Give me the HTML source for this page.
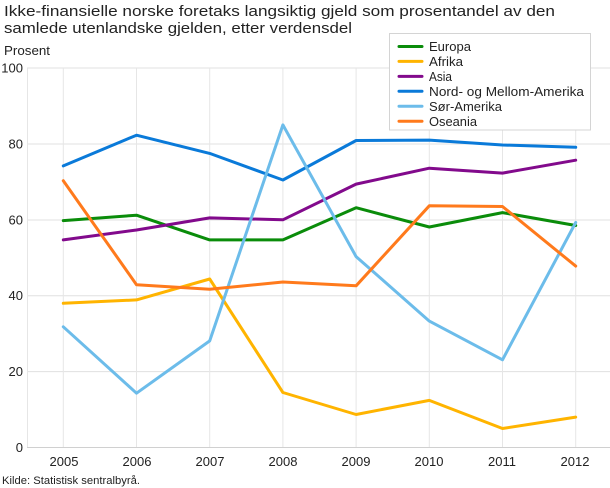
<!DOCTYPE html>
<html>
<head>
<meta charset="utf-8">
<style>
  html, body { margin: 0; padding: 0; background: #ffffff; }
  svg { display: block; }
  text { font-family: "Liberation Sans", "DejaVu Sans", sans-serif; fill: #222222; }
</style>
</head>
<body>
<svg width="610" height="488" viewBox="0 0 610 488" xmlns="http://www.w3.org/2000/svg">
  <!-- Title -->
  <text x="4" y="16" font-size="15" textLength="551" lengthAdjust="spacingAndGlyphs">Ikke-finansielle norske foretaks langsiktig gjeld som prosentandel av den</text>
  <text x="4" y="33" font-size="15" textLength="348" lengthAdjust="spacingAndGlyphs">samlede utenlandske gjelden, etter verdensdel</text>
  <text x="4" y="55" font-size="13" textLength="46" lengthAdjust="spacingAndGlyphs">Prosent</text>

  <!-- Horizontal gridlines -->
  <g stroke="#e0e0e0" stroke-width="1">
    <line x1="27" y1="68" x2="610" y2="68"/>
    <line x1="27" y1="144" x2="610" y2="144"/>
    <line x1="27" y1="220" x2="610" y2="220"/>
    <line x1="27" y1="295.7" x2="610" y2="295.7"/>
    <line x1="27" y1="371.6" x2="610" y2="371.6"/>
  </g>
  <!-- Vertical gridlines -->
  <g stroke="#e6e6e6" stroke-width="1">
    <line x1="27.5" y1="68" x2="27.5" y2="447.5"/>
    <line x1="63.3" y1="68" x2="63.3" y2="447.5"/>
    <line x1="136.5" y1="68" x2="136.5" y2="447.5"/>
    <line x1="209.7" y1="68" x2="209.7" y2="447.5"/>
    <line x1="282.9" y1="68" x2="282.9" y2="447.5"/>
    <line x1="356.1" y1="68" x2="356.1" y2="447.5"/>
    <line x1="429.3" y1="68" x2="429.3" y2="447.5"/>
    <line x1="502.5" y1="68" x2="502.5" y2="447.5"/>
    <line x1="575.7" y1="68" x2="575.7" y2="447.5"/>
  </g>
  <line x1="27" y1="447.5" x2="610" y2="447.5" stroke="#d0d0d0" stroke-width="1"/>

  <!-- Y labels -->
  <g font-size="13" text-anchor="end">
    <text x="23" y="72.5">100</text>
    <text x="23" y="148.5">80</text>
    <text x="23" y="224.5">60</text>
    <text x="23" y="300">40</text>
    <text x="23" y="376">20</text>
    <text x="23" y="452">0</text>
  </g>

  <!-- X labels -->
  <g font-size="13" text-anchor="middle">
    <text x="64" y="466">2005</text>
    <text x="137" y="466">2006</text>
    <text x="210" y="466">2007</text>
    <text x="283" y="466">2008</text>
    <text x="356" y="466">2009</text>
    <text x="429" y="466">2010</text>
    <text x="502" y="466">2011</text>
    <text x="575" y="466">2012</text>
  </g>

  <!-- Series -->
  <g fill="none" stroke-width="3" stroke-linejoin="round" stroke-linecap="round">
    <polyline stroke="#0a8c0a" points="63.3,220.6 136.5,215.2 209.7,239.9 282.9,239.9 356.1,207.7 429.3,227.0 502.5,212.6 575.7,225.5"/>
    <polyline stroke="#ffb400" points="63.3,303.3 136.5,299.9 209.7,279.0 282.9,392.5 356.1,414.5 429.3,400.4 502.5,428.5 575.7,417.1"/>
    <polyline stroke="#820a8c" points="63.3,239.9 136.5,230.0 209.7,217.9 282.9,219.8 356.1,184.1 429.3,168.2 502.5,173.1 575.7,160.2"/>
    <polyline stroke="#0a7ad9" points="63.3,165.9 136.5,135.2 209.7,153.4 282.9,180.0 356.1,140.5 429.3,140.1 502.5,145.0 575.7,147.3"/>
    <polyline stroke="#6cbcea" points="63.3,326.8 136.5,393.2 209.7,340.9 282.9,124.9 356.1,256.6 429.3,321.1 502.5,359.8 575.7,222.5"/>
    <polyline stroke="#ff7a1c" points="63.3,180.7 136.5,284.7 209.7,289.2 282.9,282.0 356.1,285.8 429.3,205.8 502.5,206.5 575.7,266.1"/>
  </g>

  <!-- Legend -->
  <rect x="389.5" y="33.5" width="201" height="96.5" fill="#ffffff" stroke="#d4d4d4" stroke-width="1"/>
  <g stroke-width="3" stroke-linecap="round">
    <line x1="399" y1="46.5" x2="422" y2="46.5" stroke="#0a8c0a"/>
    <line x1="399" y1="61.4" x2="422" y2="61.4" stroke="#ffb400"/>
    <line x1="399" y1="76.4" x2="422" y2="76.4" stroke="#820a8c"/>
    <line x1="399" y1="91.3" x2="422" y2="91.3" stroke="#0a7ad9"/>
    <line x1="399" y1="106.3" x2="422" y2="106.3" stroke="#6cbcea"/>
    <line x1="399" y1="121.2" x2="422" y2="121.2" stroke="#ff7a1c"/>
  </g>
  <g font-size="13">
    <text x="429" y="51" textLength="42" lengthAdjust="spacingAndGlyphs">Europa</text>
    <text x="429" y="66" textLength="34" lengthAdjust="spacingAndGlyphs">Afrika</text>
    <text x="429" y="81" textLength="23" lengthAdjust="spacingAndGlyphs">Asia</text>
    <text x="429" y="96" textLength="155" lengthAdjust="spacingAndGlyphs">Nord- og Mellom-Amerika</text>
    <text x="429" y="111" textLength="73" lengthAdjust="spacingAndGlyphs">Sør-Amerika</text>
    <text x="429" y="126" textLength="48" lengthAdjust="spacingAndGlyphs">Oseania</text>
  </g>

  <!-- Source -->
  <text x="2" y="484" font-size="11" textLength="138" lengthAdjust="spacingAndGlyphs">Kilde: Statistisk sentralbyrå.</text>
</svg>
</body>
</html>
